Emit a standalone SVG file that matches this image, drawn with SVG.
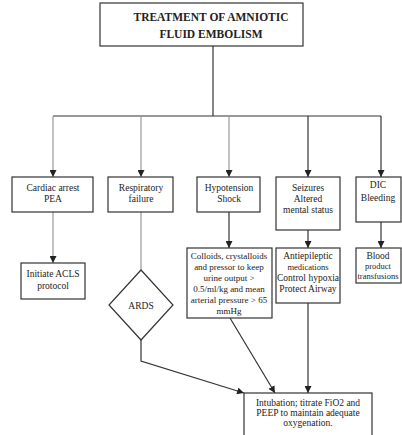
<svg xmlns="http://www.w3.org/2000/svg" width="402" height="435" viewBox="0 0 402 435" font-family="'Liberation Serif', 'DejaVu Serif', serif">
<defs>
<marker id="ah" viewBox="0 0 10 10" refX="10" refY="5" markerWidth="7" markerHeight="7" orient="auto" markerUnits="userSpaceOnUse">
<path d="M0,0 L10,5 L0,10 z" fill="#222"/>
</marker>
<style>
rect, polygon { fill: #fff; stroke: #333; stroke-width: 1.2; }
text { font-family: 'Liberation Serif', 'DejaVu Serif', serif; font-size: 9.5px; fill: #222; text-anchor: middle; }
.title { font-size: 11.5px; font-weight: bold; }
.sm { font-size: 8.5px; }
.cl { font-size: 9px; }
.ln { stroke: #333; stroke-width: 1.2; fill: none; }
.lg { stroke: #999; stroke-width: 1.2; fill: none; }
</style>
</defs>
<rect x="0" y="0" width="402" height="435" style="fill:#fff;stroke:none"/>
<g id="connectors">
<path class="ln" d="M213,46 V116"/>
<path class="ln" d="M53,116 H381"/>
<path class="lg" d="M53,116 V177" marker-end="url(#ah)"/>
<path class="lg" d="M141,116 V177" marker-end="url(#ah)"/>
<path class="lg" d="M229,116 V177" marker-end="url(#ah)"/>
<path class="ln" d="M308,116 V177" marker-end="url(#ah)"/>
<path class="ln" d="M381,116 V177" marker-end="url(#ah)"/>
<path class="lg" d="M53,212 V263" marker-end="url(#ah)"/>
<path class="lg" d="M141,212 V270"/>
<path class="ln" d="M229,212 V248" marker-end="url(#ah)"/>
<path class="ln" d="M308,230 V248" marker-end="url(#ah)"/>
<path class="ln" d="M381,222 V248" marker-end="url(#ah)"/>
<path class="ln" d="M141,340 V361 L244,393" marker-end="url(#ah)"/>
<path class="ln" d="M230,318 L275,393" marker-end="url(#ah)"/>
<path class="ln" d="M308,303 V393" marker-end="url(#ah)"/>
</g>
<g id="title">
<rect x="100" y="3" width="203" height="43"/>
<text class="title" x="211" y="21">TREATMENT OF AMNIOTIC</text>
<text class="title" x="211" y="38">FLUID EMBOLISM</text>
</g>
<g id="cardiac">
<rect x="12" y="177" width="81" height="35"/>
<text x="53" y="191">Cardiac arrest</text>
<text x="53" y="202">PEA</text>
</g>
<g id="respiratory">
<rect x="108" y="177" width="65" height="35"/>
<text x="141" y="191">Respiratory</text>
<text x="141" y="202">failure</text>
</g>
<g id="hypotension">
<rect x="197" y="177" width="63" height="35"/>
<text x="229" y="191">Hypotension</text>
<text x="229" y="202">Shock</text>
</g>
<g id="seizures">
<rect x="276" y="177" width="64" height="53"/>
<text x="308" y="191">Seizures</text>
<text x="308" y="202">Altered</text>
<text x="308" y="213">mental status</text>
</g>
<g id="dic">
<rect x="356" y="177" width="45" height="45"/>
<text x="378" y="188">DIC</text>
<text x="378" y="201">Bleeding</text>
</g>
<g id="acls">
<rect x="21" y="263" width="64" height="36"/>
<text x="53" y="277">Initiate ACLS</text>
<text x="53" y="289">protocol</text>
</g>
<g id="ards">
<polygon points="141,270 173,305 141,340 109,305"/>
<text x="141" y="309">ARDS</text>
</g>
<g id="colloids">
<rect x="187" y="248" width="85" height="70"/>
<text class="cl" x="229" y="259">Colloids, crystalloids</text>
<text class="cl" x="229" y="270">and pressor to keep</text>
<text class="cl" x="229" y="281">urine output &gt;</text>
<text class="cl" x="229" y="292">0.5/ml/kg and mean</text>
<text class="cl" x="229" y="303">arterial pressure &gt; 65</text>
<text class="cl" x="229" y="314">mmHg</text>
</g>
<g id="antiepileptic">
<rect x="276" y="248" width="64" height="55"/>
<text x="308" y="259">Antiepileptic</text>
<text class="sm" x="308" y="270">medications</text>
<text x="308" y="281">Control hypoxia</text>
<text x="308" y="292">Protect Airway</text>
</g>
<g id="blood">
<rect x="356" y="248" width="45" height="35"/>
<text x="378" y="259">Blood</text>
<text class="sm" x="378" y="269">product</text>
<text class="sm" x="378" y="279">transfusions</text>
</g>
<g id="intubation">
<rect x="244" y="393" width="128" height="50"/>
<text x="308" y="406">Intubation; titrate FiO2 and</text>
<text x="308" y="416">PEEP to maintain adequate</text>
<text x="308" y="426">oxygenation.</text>
</g>
</svg>
